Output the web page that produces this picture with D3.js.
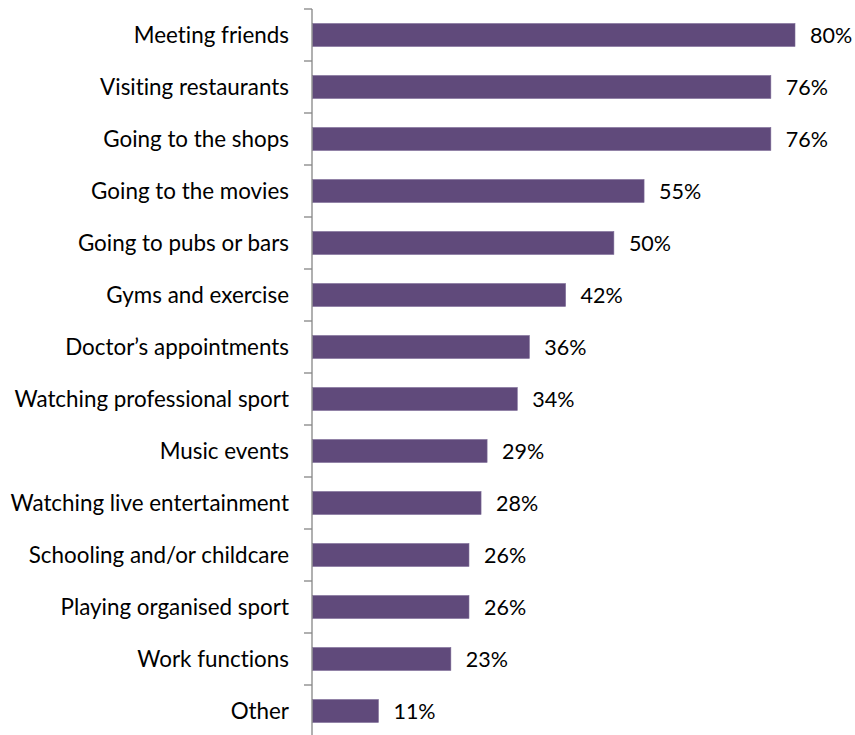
<!DOCTYPE html>
<html>
<head>
<meta charset="utf-8">
<script src="https://cdn.jsdelivr.net/npm/d3@7"></script>
<style>
  html, body { margin: 0; padding: 0; background: #fff; }
  svg { display: block; }
  text { font-family: Lato, "Open Sans", sans-serif; fill: #000; font-variant-ligatures: none; }
</style>
</head>
<body>
<svg id="chart" width="855" height="735"></svg>
<script>
// Share of respondents per activity (%)
const categories = [
  "Meeting friends",
  "Visiting restaurants",
  "Going to the shops",
  "Going to the movies",
  "Going to pubs or bars",
  "Gyms and exercise",
  "Doctor\u2019s appointments",
  "Watching professional sport",
  "Music events",
  "Watching live entertainment",
  "Schooling and/or childcare",
  "Playing organised sport",
  "Work functions",
  "Other"
];
const values = [80, 76, 76, 55, 50, 42, 36, 34, 29, 28, 26, 26, 23, 11];

const svg = d3.select("#chart");
const axisX = 312;
const plotTop = 9;
const bandH = 52;
const labelSize = 22.4;
const valueSize = 21.5;

const y = d3.scaleBand()
  .domain(categories)
  .range([plotTop, plotTop + bandH * categories.length])
  .paddingInner(0.56)
  .paddingOuter(0.28);

const x = d3.scaleLinear().domain([0, 80]).range([axisX, 795]);

// bars
svg.append("g").selectAll("rect")
  .data(values)
  .join("rect")
  .attr("x", x(0) + 0.5)
  .attr("y", (d, i) => y(categories[i]))
  .attr("width", d => x(d) - x(0) - 0.5)
  .attr("height", y.bandwidth())
  .attr("fill", "#604a7b")
  .attr("stroke", "#7a6894")
  .attr("stroke-width", 0.6);

// value labels
svg.append("g").selectAll("text")
  .data(values)
  .join("text")
  .attr("x", d => x(d) + 15)
  .attr("y", (d, i) => y(categories[i]) + y.bandwidth() / 2)
  .attr("dy", "0.36em")
  .attr("font-size", valueSize)
  .text(d => d + "%");

// category axis: line with tick marks between categories
const ax = svg.append("g").attr("transform", `translate(${axisX},0)`);
ax.append("line")
  .attr("x1", 0).attr("x2", 0)
  .attr("y1", plotTop).attr("y2", 735)
  .attr("stroke", "#868686").attr("stroke-width", 1.3);

const tickYs = d3.range(categories.length + 1).map(i => plotTop + i * bandH);
ax.selectAll("line.tick")
  .data(tickYs)
  .join("line")
  .attr("class", "tick")
  .attr("x1", -8).attr("x2", 0)
  .attr("y1", d => d).attr("y2", d => d)
  .attr("stroke", "#868686").attr("stroke-width", 1.3);

ax.selectAll("text")
  .data(categories)
  .join("text")
  .attr("x", -23)
  .attr("y", d => y(d) + y.bandwidth() / 2)
  .attr("dy", "0.36em")
  .attr("text-anchor", "end")
  .attr("font-size", labelSize)
  .text(d => d);
</script>
</body>
</html>
